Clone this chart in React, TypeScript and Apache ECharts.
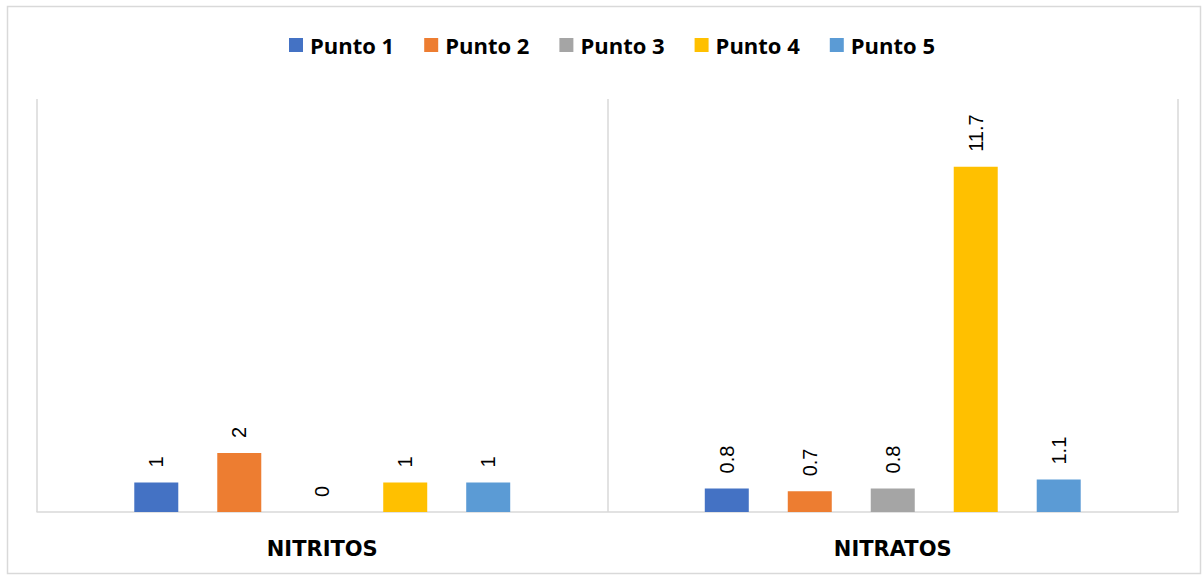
import React, { useEffect, useRef } from "react";
import * as echarts from "echarts";

const categories = ["NITRITOS", "NITRATOS"];
const seriesNames = ["Punto 1", "Punto 2", "Punto 3", "Punto 4", "Punto 5"];
const punto1 = [1, 0.8];
const punto2 = [2, 0.7];
const punto3 = [0, 0.8];
const punto4 = [1, 11.7];
const punto5 = [1, 1.1];
const colors = ["#4472C4", "#ED7D31", "#A5A5A5", "#FFC000", "#5B9BD5"];

export default function App() {
  const ref = useRef<HTMLDivElement>(null);
  useEffect(() => {
    document.body.style.margin = "0";
    const chart = echarts.init(ref.current!, null, { renderer: "svg" });
    const values = [punto1, punto2, punto3, punto4, punto5];
    chart.setOption({
      animation: false,
      backgroundColor: "#ffffff",
      color: colors,
      textStyle: { fontFamily: "Open Sans" },
      graphic: [
        {
          type: "rect",
          shape: { x: 7.5, y: 6.5, width: 1193, height: 567 },
          style: { fill: "none", stroke: "#d9d9d9", lineWidth: 1.5 },
          silent: true,
        },
      ],
      legend: {
        top: 29,
        left: 284,
        itemWidth: 14,
        itemHeight: 14,
        itemGap: 30,
        icon: "rect",
        textStyle: {
          fontSize: 22,
          fontWeight: "bold",
          color: "#000000",
          fontFamily: "Open Sans",
          padding: [0, 0, 0, 2],
        },
        data: seriesNames,
      },
      grid: { left: 37, right: 25, top: 99, bottom: 64, containLabel: false },
      xAxis: {
        type: "category",
        data: categories,
        boundaryGap: true,
        axisLine: { show: true, lineStyle: { color: "#d9d9d9", width: 1.5 } },
        axisTick: { show: false },
        splitLine: { show: true, lineStyle: { color: "#d9d9d9", width: 1.5 } },
        axisLabel: {
          fontSize: 21,
          fontWeight: "bold",
          color: "#000000",
          margin: 26,
          fontFamily: "DejaVu Sans",
        },
      },
      yAxis: {
        type: "value",
        min: 0,
        max: 14,
        show: false,
        splitLine: { show: false },
      },
      series: seriesNames.map((name, i) => ({
        name,
        type: "bar",
        data: values[i],
        barWidth: 44,
        barGap: "88.6%",
        itemStyle: { color: colors[i] },
        label: {
          show: true,
          position: "top",
          rotate: 90,
          align: "left",
          verticalAlign: "middle",
          distance: 15,
          fontSize: 20,
          color: "#000000",
          fontFamily: "Liberation Sans",
          formatter: (p: any) => String(p.value),
        },
      })),
    });
    return () => chart.dispose();
  }, []);
  return <div ref={ref} style={{ width: 1203, height: 576 }} />;
}
